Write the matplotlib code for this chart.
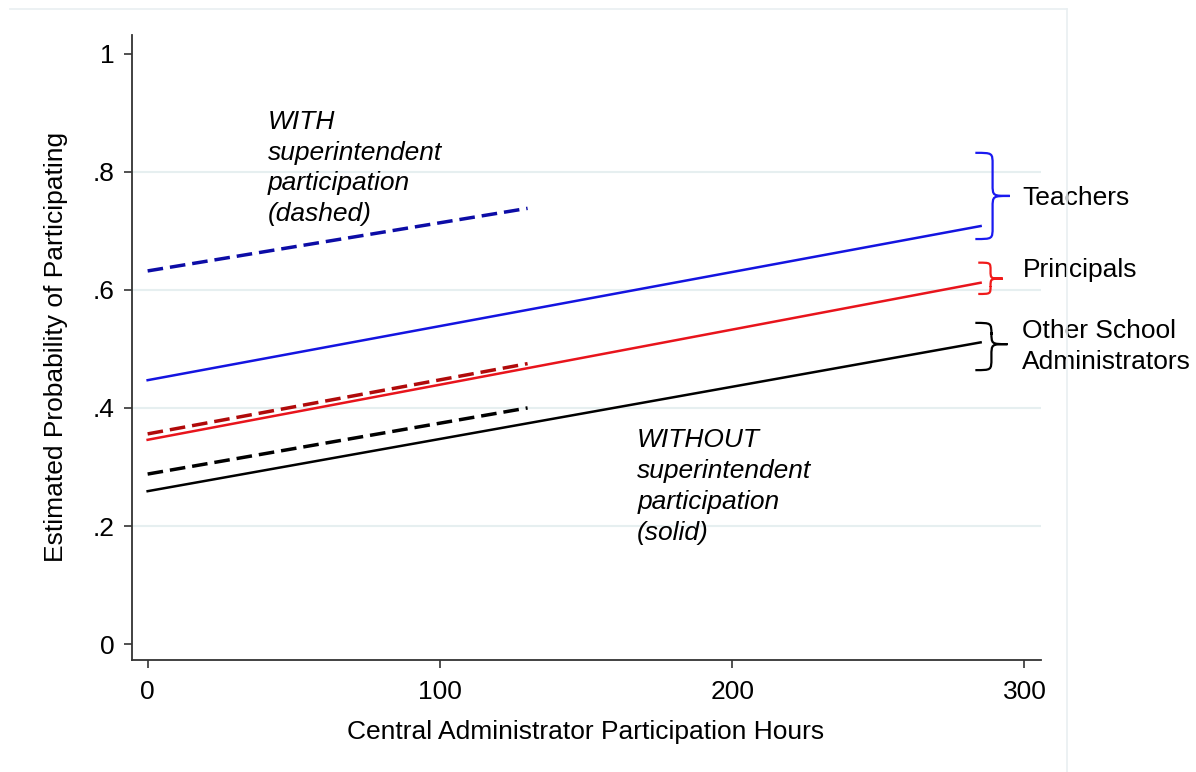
import matplotlib
matplotlib.use("Agg")
import matplotlib.pyplot as plt
from matplotlib.path import Path
from matplotlib.patches import PathPatch
from matplotlib.lines import Line2D

plt.rcParams['font.family'] = ['Liberation Sans', 'DejaVu Sans']

# predicted probabilities (start / end of each fitted line)
hours_solid = [0, 285]
hours_dashed = [0, 130]

teachers_without = [0.447, 0.708]
principals_without = [0.346, 0.612]
others_without = [0.259, 0.511]

teachers_with = [0.632, 0.738]
principals_with = [0.356, 0.475]
others_with = [0.288, 0.400]

group_labels = ["Teachers", "Principals", "Other School\nAdministrators"]

x_ticks = [0, 100, 200, 300]
y_ticks = [0, 0.2, 0.4, 0.6, 0.8, 1]
y_ticklabels = ["0", ".2", ".4", ".6", ".8", "1"]

FS = 19


def brace(ax, x0, xtip, ytop, ybot, ymid, color):
    xm = (x0 + xtip) / 2
    r = min(0.02, (ytop - ybot) / 4)
    verts = [(x0, ytop),
             (xm, ytop), (xm, ytop), (xm, ytop - r),
             (xm, ymid + r),
             (xm, ymid), (xm, ymid), (xtip, ymid),
             (xm, ymid), (xm, ymid), (xm, ymid - r),
             (xm, ybot + r),
             (xm, ybot), (xm, ybot), (x0, ybot)]
    codes = [Path.MOVETO,
             Path.CURVE4, Path.CURVE4, Path.CURVE4,
             Path.LINETO,
             Path.CURVE4, Path.CURVE4, Path.CURVE4,
             Path.CURVE4, Path.CURVE4, Path.CURVE4,
             Path.LINETO,
             Path.CURVE4, Path.CURVE4, Path.CURVE4]
    ax.add_patch(PathPatch(Path(verts, codes), facecolor="none",
                           edgecolor=color, lw=1.6, clip_on=False))


fig = plt.figure(figsize=(11.96, 7.72), dpi=100)
# faint outer frame (top and right edge only visible)
xr, yt = 1067 / 1196, 1 - 9 / 772
fig.lines.append(Line2D([10 / 1196, xr], [yt, yt], transform=fig.transFigure,
                        color="#E9EFF1", lw=1.2))
fig.lines.append(Line2D([xr, xr], [yt, 0], transform=fig.transFigure,
                        color="#E9EFF1", lw=1.2))

ax = fig.add_axes([0.110, 0.145, 0.760, 0.810])

for yy in [0.2, 0.4, 0.6, 0.8]:
    ax.axhline(yy, color="#E6EFF0", lw=1.5, zorder=0)

dash = (4.5, 2.0)
ax.plot(hours_solid, teachers_without, color="#1414E0", lw=1.8)
ax.plot(hours_solid, principals_without, color="#E8141C", lw=1.8)
ax.plot(hours_solid, others_without, color="black", lw=1.8)
ax.plot(hours_dashed, teachers_with, color="#0C0CA6", lw=2.5, ls=(0, dash))
ax.plot(hours_dashed, principals_with, color="#B00A0A", lw=2.5, ls=(0, dash))
ax.plot(hours_dashed, others_with, color="black", lw=2.5, ls=(0, dash))

ax.set_xlim(-5.5, 305.5)
ax.set_ylim(-0.027, 1.032)
ax.set_xticks(x_ticks)
ax.set_yticks(y_ticks)
ax.set_yticklabels(y_ticklabels)
ax.tick_params(axis="both", direction="out", length=6, width=1.2,
               colors="#333333", labelcolor="black", labelsize=FS)
ax.tick_params(axis="y", pad=6)
ax.tick_params(axis="x", pad=8)
for s in ["top", "right"]:
    ax.spines[s].set_visible(False)
for s in ["left", "bottom"]:
    ax.spines[s].set_linewidth(1.3)
    ax.spines[s].set_color("#333333")

ax.set_xlabel("Central Administrator Participation Hours", fontsize=FS, labelpad=12)
ax.set_ylabel("Estimated Probability of Participating", fontsize=FS, labelpad=18)

# braces and group labels
brace(ax, 283.2, 295.0, 0.832, 0.686, 0.759, "#1A1AF0")
brace(ax, 284.2, 292.6, 0.646, 0.593, 0.619, "#F01A1A")
brace(ax, 283.2, 294.2, 0.544, 0.464, 0.508, "black")

ax.text(299.3, 0.756, group_labels[0], fontsize=FS, va="center", ha="left")
ax.text(299.3, 0.634, group_labels[1], fontsize=FS, va="center", ha="left")
ax.text(299.3, 0.504, group_labels[2], fontsize=FS, va="center", ha="left",
        linespacing=1.36)

ax.text(41, 0.905, "WITH\nsuperintendent\nparticipation\n(dashed)",
        fontsize=FS, style="italic", va="top", ha="left", linespacing=1.36)
ax.text(167.5, 0.366, "WITHOUT\nsuperintendent\nparticipation\n(solid)",
        fontsize=FS, style="italic", va="top", ha="left", linespacing=1.36)

fig.savefig("out.png", dpi=100)
